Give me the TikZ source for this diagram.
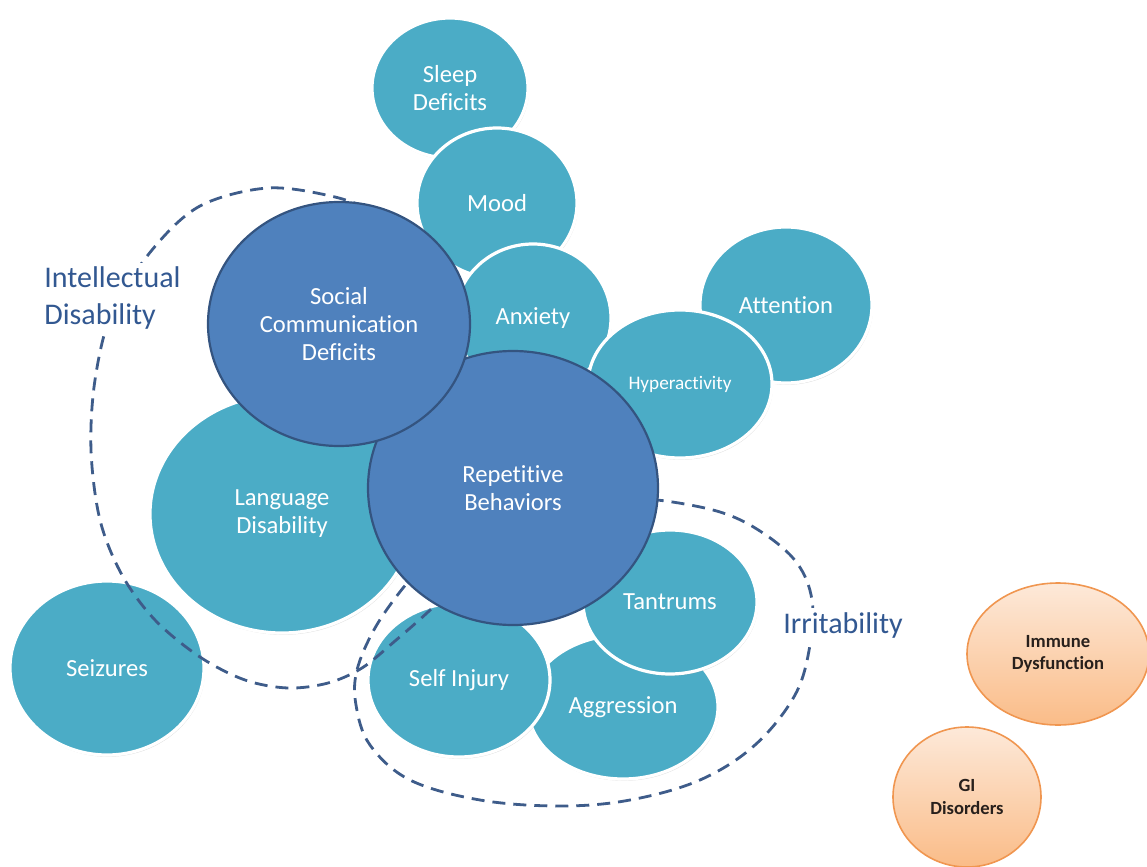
\documentclass[tikz,border=0pt]{standalone}
\usepackage{fontspec}
\setmainfont{Carlito}[Ligatures=NoCommon]
\usetikzlibrary{shapes.geometric,shadows}
\definecolor{aqua}{RGB}{75,172,198}
\definecolor{coreblue}{RGB}{79,129,189}
\definecolor{coreline}{RGB}{52,84,128}
\definecolor{dashblue}{RGB}{62,92,138}
\definecolor{tagblue}{RGB}{50,88,145}
\definecolor{peachtop}{RGB}{253,233,217}
\definecolor{peachbot}{RGB}{250,188,136}
\definecolor{peachline}{RGB}{240,150,80}
\definecolor{peachtext}{RGB}{40,32,28}
\begin{document}
\begin{tikzpicture}[x=0.5pt,y=-0.5pt,
  bubble/.style={ellipse,inner sep=0pt,fill=aqua,draw=white,line width=1.6pt,text=white,align=center,font=\fontsize{12.3}{14}\selectfont,drop shadow={shadow xshift=0.5pt,shadow yshift=-0.9pt,opacity=0.25}},
  core/.style={ellipse,inner sep=0pt,fill=coreblue,draw=coreline,line width=1.1pt,text=white,align=center,font=\fontsize{12.3}{14}\selectfont},
  extra/.style={ellipse,inner sep=0pt,top color=peachtop,bottom color=peachbot,draw=peachline,line width=0.8pt,text=peachtext,align=center,font=\bfseries\fontsize{9.3}{11.2}\selectfont},
  cluster/.style={draw=dashblue,line width=1.4pt,dash pattern=on 6.5pt off 4pt},
  tag/.style={fill=white,text=tagblue,inner sep=2pt,align=left,font=\fontsize{15}{18.5}\selectfont}]
\useasboundingbox (0,0) rectangle (1147,867);
\draw (450,88) node[bubble,minimum width=78pt,minimum height=70pt](sleep) {Sleep\\Deficits};
\draw (497,203) node[bubble,minimum width=80pt,minimum height=75pt](mood) {Mood};
\draw (533,318) node[bubble,minimum width=78pt,minimum height=74pt](anxiety) {Anxiety};
\draw (786,305) node[bubble,minimum width=86pt,minimum height=78pt](attention) {Attention};
\draw (680,384) node[bubble,minimum width=92pt,minimum height=74pt,font=\fontsize{9.6}{11}\selectfont](hyper) {Hyperactivity};
\draw (282,514) node[bubble,minimum width=132pt,minimum height=119pt](language) {Language\\Disability};
\draw (107,668) node[bubble,minimum width=97pt,minimum height=87pt](seizures) {Seizures};
\draw (623,707) node[bubble,minimum width=95pt,minimum height=72pt](aggression) {Aggression};
\draw (670,602) node[bubble,minimum width=87pt,minimum height=72pt](tantrums) {Tantrums};
\draw (459,680) node[bubble,minimum width=91pt,minimum height=77pt](selfinjury) {Self Injury};
\draw[cluster] plot[smooth,tension=0.55] coordinates {(385,215) (335,197) (268,188) (200,206) (152,250) (112,312) (95,380) (91,450) (100,520) (122,575) (155,620) (200,657) (245,680) (288,688) (328,683) (362,668) (395,641) (428,612) (455,585)};
\draw[cluster] plot[smooth,tension=0.6] coordinates {(630,503) (657,500) (720,512) (763,533) (797,563) (812,600) (810,645) (795,695) (755,745) (700,780) (630,800) (560,806) (480,800) (410,780) (370,745) (356,705) (357,670) (375,628) (403,588) (425,565)};
\draw (40,298) node[tag,anchor=west](intellectual) {Intellectual\\Disability};
\draw (843,625) node[tag](irritability) {Irritability};
\draw (513,488) node[core,minimum width=145pt,minimum height=137pt](repetitive) {Repetitive\\Behaviors};
\draw (339,324) node[core,minimum width=131pt,minimum height=122pt](social) {Social\\Communication\\Deficits};
\draw (1058,654) node[extra,minimum width=91pt,minimum height=71pt](immune) {Immune\\Dysfunction};
\draw (967,797) node[extra,minimum width=74pt,minimum height=70pt](gi) {GI\\Disorders};
\end{tikzpicture}
\end{document}
